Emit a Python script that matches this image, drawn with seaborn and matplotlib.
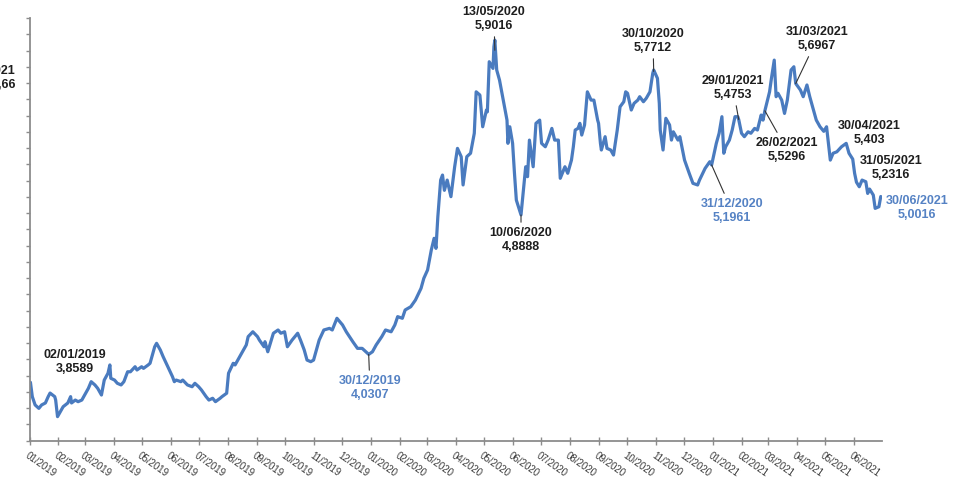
import matplotlib
matplotlib.use("Agg")
import matplotlib.pyplot as plt
import matplotlib.dates as mdates
import numpy as np
import pandas as pd
import seaborn as sns

# ---------------- data ----------------
dates = [
    "2019-01-02", "2019-01-04", "2019-01-07", "2019-01-11", "2019-01-14", "2019-01-18", "2019-01-21",
    "2019-01-23", "2019-01-28", "2019-01-29", "2019-01-31", "2019-02-04", "2019-02-06", "2019-02-11",
    "2019-02-14", "2019-02-15", "2019-02-19", "2019-02-22", "2019-02-26", "2019-03-01", "2019-03-05",
    "2019-03-08", "2019-03-12", "2019-03-15", "2019-03-19", "2019-03-22", "2019-03-26", "2019-03-28",
    "2019-03-29", "2019-04-02", "2019-04-05", "2019-04-09", "2019-04-12", "2019-04-16", "2019-04-19",
    "2019-04-24", "2019-04-26", "2019-05-01", "2019-05-03", "2019-05-08", "2019-05-10", "2019-05-15",
    "2019-05-17", "2019-05-21", "2019-05-24", "2019-05-29", "2019-06-03", "2019-06-05", "2019-06-07",
    "2019-06-12", "2019-06-14", "2019-06-19", "2019-06-24", "2019-06-27", "2019-07-01", "2019-07-04",
    "2019-07-09", "2019-07-12", "2019-07-16", "2019-07-19", "2019-07-24", "2019-07-26", "2019-07-31",
    "2019-08-02", "2019-08-07", "2019-08-09", "2019-08-14", "2019-08-16", "2019-08-21", "2019-08-23",
    "2019-08-28", "2019-09-02", "2019-09-04", "2019-09-09", "2019-09-10", "2019-09-13", "2019-09-19",
    "2019-09-24", "2019-09-27", "2019-10-01", "2019-10-04", "2019-10-09", "2019-10-15", "2019-10-18",
    "2019-10-22", "2019-10-25", "2019-10-29", "2019-11-01", "2019-11-07", "2019-11-12", "2019-11-18",
    "2019-11-21", "2019-11-26", "2019-12-02", "2019-12-06", "2019-12-13", "2019-12-18", "2019-12-23",
    "2019-12-30", "2020-01-03", "2020-01-07", "2020-01-13", "2020-01-17", "2020-01-23", "2020-01-27",
    "2020-01-30", "2020-02-04", "2020-02-07", "2020-02-13", "2020-02-18", "2020-02-24", "2020-02-27",
    "2020-03-02", "2020-03-06", "2020-03-09", "2020-03-11", "2020-03-13", "2020-03-16", "2020-03-18",
    "2020-03-20", "2020-03-23", "2020-03-27", "2020-03-31", "2020-04-03", "2020-04-07", "2020-04-09",
    "2020-04-13", "2020-04-17", "2020-04-21", "2020-04-23", "2020-04-27", "2020-04-30", "2020-05-04",
    "2020-05-05", "2020-05-07", "2020-05-11", "2020-05-12", "2020-05-13", "2020-05-15", "2020-05-18",
    "2020-05-22", "2020-05-26", "2020-05-27", "2020-05-29", "2020-06-01", "2020-06-03", "2020-06-05",
    "2020-06-10", "2020-06-15", "2020-06-17", "2020-06-19", "2020-06-23", "2020-06-26", "2020-06-30",
    "2020-07-02", "2020-07-06", "2020-07-09", "2020-07-13", "2020-07-16", "2020-07-20", "2020-07-22",
    "2020-07-27", "2020-07-30", "2020-08-03", "2020-08-05", "2020-08-07", "2020-08-10", "2020-08-12",
    "2020-08-14", "2020-08-17", "2020-08-20", "2020-08-24", "2020-08-27", "2020-08-31", "2020-09-01",
    "2020-09-03", "2020-09-04", "2020-09-08", "2020-09-10", "2020-09-14", "2020-09-17", "2020-09-21",
    "2020-09-24", "2020-09-28", "2020-09-30", "2020-10-02", "2020-10-06", "2020-10-09", "2020-10-13",
    "2020-10-15", "2020-10-19", "2020-10-22", "2020-10-26", "2020-10-29", "2020-10-30", "2020-11-03",
    "2020-11-05", "2020-11-06", "2020-11-09", "2020-11-12", "2020-11-16", "2020-11-18", "2020-11-20",
    "2020-11-25", "2020-11-27", "2020-12-02", "2020-12-07", "2020-12-11", "2020-12-16", "2020-12-18",
    "2020-12-24", "2020-12-29", "2020-12-31", "2021-01-05", "2021-01-08", "2021-01-11", "2021-01-13",
    "2021-01-15", "2021-01-19", "2021-01-22", "2021-01-25", "2021-01-28", "2021-01-29", "2021-02-01",
    "2021-02-04", "2021-02-08", "2021-02-11", "2021-02-15", "2021-02-18", "2021-02-22", "2021-02-24",
    "2021-02-26", "2021-03-03", "2021-03-05", "2021-03-08", "2021-03-10", "2021-03-12", "2021-03-16",
    "2021-03-19", "2021-03-22", "2021-03-26", "2021-03-29", "2021-03-31", "2021-04-05", "2021-04-08",
    "2021-04-12", "2021-04-15", "2021-04-19", "2021-04-22", "2021-04-26", "2021-04-30", "2021-05-03",
    "2021-05-07", "2021-05-10", "2021-05-14", "2021-05-19", "2021-05-24", "2021-05-27", "2021-05-31",
    "2021-06-02", "2021-06-04", "2021-06-07", "2021-06-10", "2021-06-14", "2021-06-16", "2021-06-18",
    "2021-06-22", "2021-06-24", "2021-06-28", "2021-06-30",
]
rates = [
    3.859, 3.771, 3.720, 3.699, 3.720, 3.732, 3.771,
    3.793, 3.771, 3.750, 3.648, 3.689, 3.709, 3.732,
    3.771, 3.732, 3.750, 3.740, 3.750, 3.781, 3.822,
    3.863, 3.843, 3.822, 3.781, 3.873, 3.915, 3.966,
    3.884, 3.873, 3.853, 3.843, 3.863, 3.924, 3.924,
    3.955, 3.935, 3.955, 3.945, 3.966, 3.976, 4.078,
    4.099, 4.058, 4.017, 3.955, 3.894, 3.863, 3.873,
    3.863, 3.873, 3.843, 3.832, 3.853, 3.832, 3.812,
    3.771, 3.750, 3.761, 3.740, 3.761, 3.771, 3.792,
    3.915, 3.976, 3.966, 4.017, 4.038, 4.089, 4.140,
    4.170, 4.140, 4.119, 4.078, 4.109, 4.047, 4.161,
    4.181, 4.161, 4.170, 4.078, 4.119, 4.161, 4.119,
    4.058, 3.996, 3.986, 3.996, 4.119, 4.181, 4.191,
    4.181, 4.253, 4.212, 4.170, 4.109, 4.068, 4.068,
    4.031, 4.047, 4.089, 4.140, 4.181, 4.170, 4.212,
    4.263, 4.253, 4.304, 4.324, 4.365, 4.437, 4.499,
    4.550, 4.673, 4.745, 4.683, 4.878, 5.103, 5.134,
    5.040, 5.103, 5.001, 5.185, 5.298, 5.247, 5.073,
    5.247, 5.268, 5.391, 5.646, 5.626, 5.431, 5.534,
    5.523, 5.831, 5.790, 5.923, 5.964, 5.780, 5.718,
    5.595, 5.472, 5.329, 5.431, 5.329, 5.145, 4.980,
    4.889, 5.185, 5.124, 5.349, 5.185, 5.452, 5.472,
    5.329, 5.308, 5.349, 5.421, 5.349, 5.349, 5.114,
    5.185, 5.145, 5.226, 5.308, 5.411, 5.421, 5.452,
    5.380, 5.442, 5.646, 5.595, 5.595, 5.472, 5.452,
    5.329, 5.288, 5.370, 5.298, 5.288, 5.257, 5.411,
    5.554, 5.585, 5.646, 5.637, 5.534, 5.575, 5.595,
    5.616, 5.585, 5.606, 5.646, 5.760, 5.780, 5.729,
    5.575, 5.411, 5.288, 5.483, 5.442, 5.349, 5.400,
    5.349, 5.370, 5.226, 5.145, 5.083, 5.073, 5.103,
    5.175, 5.216, 5.196, 5.329, 5.391, 5.493, 5.268,
    5.308, 5.349, 5.411, 5.493, 5.493, 5.475, 5.391,
    5.370, 5.400, 5.391, 5.421, 5.411, 5.503, 5.472,
    5.530, 5.646, 5.729, 5.841, 5.616, 5.637, 5.595,
    5.513, 5.595, 5.780, 5.800, 5.697, 5.657, 5.616,
    5.688, 5.616, 5.534, 5.472, 5.431, 5.403, 5.431,
    5.226, 5.268, 5.277, 5.308, 5.329, 5.268, 5.232,
    5.145, 5.090, 5.062, 5.103, 5.093, 5.021, 5.048,
    5.011, 4.929, 4.939, 5.002,
]

month_ticks = pd.date_range("2019-01-01", "2021-06-01", freq="MS")

ann_dates = ["2019-01-02", "2019-12-30", "2020-05-13", "2020-06-10", "2020-10-30", "2020-12-31",
             "2021-01-29", "2021-02-26", "2021-03-31", "2021-04-30", "2021-05-31", "2021-06-30"]
ann_values = [3.8589, 4.0307, 5.9016, 4.8888, 5.7712, 5.1961,
              5.4753, 5.5296, 5.6967, 5.403, 5.2316, 5.0016]
ann_blue = [False, True, False, False, False, True,
            False, False, False, False, False, True]
ann_leader = [False, True, True, True, True, True,
              True, True, True, False, False, False]

# ---------------- layout ----------------
W, H = 966, 479
# label centres in pixels (from top-left of the image)
ann_pos = [(75, 362), (370, 388), (494, 19), (521, 240), (653, 41), (732, 211),
           (733, 88), (787, 150), (817, 39), (869, 133), (891, 168), (917, 208)]

LINE = "#4a7bbf"
BLUE_TXT = "#5582c4"
DARK_TXT = "#1e1e1e"
AXIS = "#8c8c8c"

sns.set_theme(style="white")
plt.rcParams["font.family"] = ["Liberation Sans", "DejaVu Sans"]

fig = plt.figure(figsize=(W / 100, H / 100), dpi=100)
ax = fig.add_axes([29.5 / W, 1 - 440.7 / H, (881.7 - 29.5) / W, (440.7 - 18) / H])

df = pd.DataFrame({"date": pd.to_datetime(dates), "rate": rates})
sns.lineplot(data=df, x="date", y="rate", ax=ax, color=LINE, linewidth=2.3,
             solid_joinstyle="round", solid_capstyle="round")

ax.set_xlim(pd.Timestamp("2019-01-01"), pd.Timestamp("2021-07-01"))
ax.set_ylim(3.5, 6.1)
ax.set_xlabel("")
ax.set_ylabel("")

ax.set_xticks(month_ticks)
ax.xaxis.set_major_formatter(mdates.DateFormatter("%m/%Y"))
ax.set_yticks(np.round(np.arange(3.5, 6.11, 0.1), 2))

ax.tick_params(axis="x", bottom=True, direction="inout", length=6, width=1, color=AXIS,
               labelsize=7, labelcolor="#3c3c3c", pad=4)
ax.tick_params(axis="y", left=True, direction="out", length=3, width=1, color=AXIS,
               labelleft=False)
for lab in ax.get_xticklabels():
    lab.set_rotation(-35)
    lab.set_ha("left")
    lab.set_va("top")
    lab.set_rotation_mode("anchor")

for s in ["top", "right"]:
    ax.spines[s].set_visible(False)
for s in ["left", "bottom"]:
    ax.spines[s].set_color(AXIS)
    ax.spines[s].set_linewidth(1.3)
ax.grid(False)

for d, v, blue, lead, (px, py) in zip(ann_dates, ann_values, ann_blue, ann_leader, ann_pos):
    txt = f"{pd.Timestamp(d):%d/%m/%Y}\n{str(v).replace('.', ',')}"
    ap = dict(arrowstyle="-", color="#333333", lw=0.8, shrinkA=1, shrinkB=0) if lead else None
    ax.annotate(txt, xy=(pd.Timestamp(d), v), xycoords="data",
                xytext=(px, H - py), textcoords="figure pixels",
                ha="center", va="center", multialignment="center",
                fontsize=9, fontweight="bold", linespacing=1.25,
                color=BLUE_TXT if blue else DARK_TXT, arrowprops=ap,
                annotation_clip=False)

# label cut off by the left edge of the image (as in the original)
fig.text(16 / W, 1 - 78 / H, "31/03/2021\n5,66", ha="right", va="center",
         multialignment="right", fontsize=9, fontweight="bold", linespacing=1.25,
         color=DARK_TXT)

fig.savefig("out.png", dpi=100)
